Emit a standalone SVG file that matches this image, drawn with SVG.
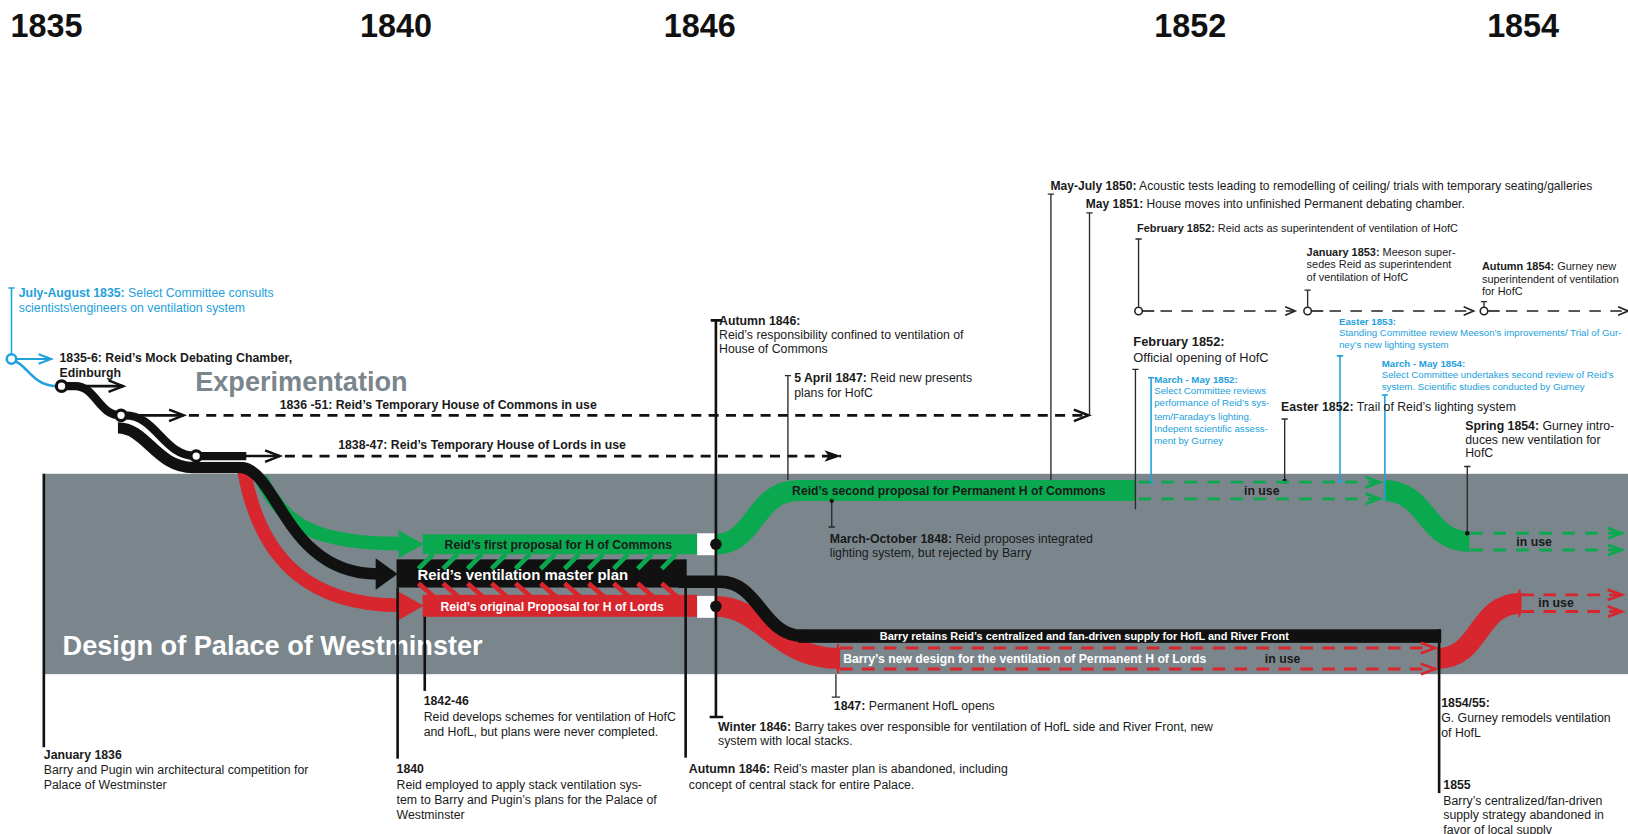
<svg xmlns="http://www.w3.org/2000/svg" width="1628" height="834" viewBox="0 0 1628 834">
<defs>
<style>
text{font-family:"Liberation Sans",Arial,Helvetica,sans-serif;font-size:11.8px;fill:#1a1a1a}
.b{font-weight:bold}
.yr{font-size:31px;font-weight:bold;fill:#111}
.big{font-size:26px;font-weight:bold}
.blue{fill:#22a0dc}
.xs{font-size:9.3px}
.sm{font-size:10.5px}
.w{fill:#fff}
.lbl{font-weight:bold;font-size:11.7px}
.ln{stroke:#2a2a2a;stroke-width:1.3;fill:none}
.lnB{stroke:#22a0dc;stroke-width:1.5;fill:none}
.thk{stroke:#111;stroke-width:2.5;fill:none}
.ar{stroke:#111;stroke-width:2.5;fill:none}
.dk{stroke:#111;stroke-width:2.6;fill:none;stroke-dasharray:9.6 7}
.dg{stroke:#0aa94f;stroke-width:2.8;fill:none;stroke-dasharray:12 10}
.dr{stroke:#d7262d;stroke-width:2.8;fill:none;stroke-dasharray:12 9}
.dt{stroke:#222;stroke-width:1.6;fill:none;stroke-dasharray:11 9}
.cir{fill:#fff;stroke:#111;stroke-width:3}
.hg{stroke:#0aa94f;stroke-width:4.5}
.hr{stroke:#d7262d;stroke-width:4.5}
</style>
<marker id="chK" markerUnits="userSpaceOnUse" markerWidth="18" markerHeight="14" refX="15" refY="6" orient="auto" overflow="visible"><path d="M1,0.5 L15,6 L1,11.5" fill="none" stroke="#111" stroke-width="2.4"/></marker>
<marker id="chB" markerUnits="userSpaceOnUse" markerWidth="16" markerHeight="12" refX="13" refY="5" orient="auto" overflow="visible"><path d="M1,0.5 L13,5 L1,9.5" fill="none" stroke="#22a0dc" stroke-width="2"/></marker>
<marker id="chT" markerUnits="userSpaceOnUse" markerWidth="12" markerHeight="10" refX="10" refY="4.5" orient="auto" overflow="visible"><path d="M0.5,0.5 L10,4.5 L0.5,8.5" fill="none" stroke="#222" stroke-width="1.6"/></marker>
<marker id="chG" markerUnits="userSpaceOnUse" markerWidth="16" markerHeight="12" refX="14" refY="5" orient="auto" overflow="visible"><path d="M0.5,0 L14,5 L0.5,10" fill="none" stroke="#0aa94f" stroke-width="2.6"/></marker>
<marker id="chR" markerUnits="userSpaceOnUse" markerWidth="16" markerHeight="12" refX="14" refY="5" orient="auto" overflow="visible"><path d="M0.5,0 L14,5 L0.5,10" fill="none" stroke="#d7262d" stroke-width="2.6"/></marker>
<marker id="hdK" markerUnits="userSpaceOnUse" markerWidth="18" markerHeight="12" refX="16" refY="5.5" orient="auto" overflow="visible"><path d="M0,0 L16,5.5 L0,11 L4,5.5 Z" fill="#111"/></marker>
</defs>
<rect width="1628" height="834" fill="#fff"/>
<g transform="scale(1.0436)">

<g id="band"><rect x="42" y="454" width="1530" height="192" fill="#7a868c"/></g>

<g id="years">
<text class="yr" x="10" y="35">1835</text>
<text class="yr" x="345" y="35">1840</text>
<text class="yr" x="636" y="35">1846</text>
<text class="yr" x="1106" y="35">1852</text>
<text class="yr" x="1425" y="35">1854</text>
</g>

<g id="headings">
<text class="big" x="187" y="375" style="fill:#7a868c">Experimentation</text>
<text class="big w" x="60" y="628">Design of Palace of Westminster</text>
</g>

<g id="tracks">
<path d="M234,452 C250,540 300,580 384,580" stroke="#d7262d" stroke-width="13" fill="none"/>
<path d="M250,458 C272,505 305,521 384,521" stroke="#0aa94f" stroke-width="13" fill="none"/>
<path d="M113,410 C140,410 150,448 185,448 L232,448 C266,452 275,550 362,550" stroke="#111" stroke-width="11" fill="none"/>
<polygon points="360,535 381,550 360,565" fill="#111"/>
<polygon points="382,508 406,521.5 382,535" fill="#0aa94f"/>
<polygon points="382,567 406,580.5 382,594" fill="#d7262d"/>
<path d="M59,370 L72,370 C92,370 94,398 116,398" stroke="#111" stroke-width="8" fill="none"/>
<path d="M120,398 C150,398 156,437 188,437 L236,437" stroke="#fff" stroke-width="11" fill="none"/>
<path d="M120,398 C150,398 156,437 188,437 L236,437" stroke="#111" stroke-width="8" fill="none"/>
</g>

<g id="reid-proposals">
<rect x="405" y="512" width="263" height="19" fill="#0aa94f"/>
<rect x="668" y="511" width="17" height="21" fill="#fff"/>
<rect x="380" y="536" width="278" height="27" fill="#111"/>
<rect x="405" y="570" width="263" height="21" fill="#d7262d"/>
<rect x="668" y="571" width="17" height="21" fill="#fff"/>
<g class="hg">
<path d="M401,545 l14,-14 M424.5,545 l14,-14 M448,545 l14,-14 M471,545 l14,-14 M494,545 l14,-14 M518,545 l14,-14 M541,545 l14,-14 M564,545 l14,-14 M588,545 l14,-14 M611,545 l14,-14 M634,545 l14,-14"/>
</g>
<g class="hr">
<path d="M401,559 l15,13 M424.5,559 l15,13 M448,559 l15,13 M471,559 l15,13 M494,559 l15,13 M518,559 l15,13 M541,559 l15,13 M564,559 l15,13 M588,559 l15,13 M611,559 l15,13 M634,559 l15,13"/>
</g>
<text class="lbl" x="426" y="526">Reid’s first proposal for H of Commons</text>
<text class="b w" x="400" y="556" style="font-size:14.3px">Reid’s ventilation master plan</text>
<text class="lbl w" x="422" y="585">Reid’s original Proposal for H of Lords</text>
</g>

<g id="permanent-hofc">
<path d="M685,521.5 C725,521.5 722,470 765,470 L1088,470" stroke="#0aa94f" stroke-width="20" fill="none"/>
<text class="lbl" x="759" y="474">Reid’s second proposal for Permanent H of Commons</text>
<path d="M1326,470 C1368,470 1366,519 1408,519" stroke="#0aa94f" stroke-width="20" fill="none"/>
</g>

<g id="permanent-hofl">
<path d="M685,581 C732,581 742,631 805,631" stroke="#d7262d" stroke-width="20" fill="none"/>
<path d="M650,557.5 L690,557.5 C728,557.5 730,609.5 770,609.5" stroke="#111" stroke-width="12" fill="none"/>
<rect x="765" y="603" width="616" height="13" fill="#111"/>
<text class="b w" x="843" y="613" style="font-size:10.5px">Barry retains Reid’s centralized and fan-driven supply for HofL and River Front</text>
<text class="lbl w" x="808" y="635">Barry’s new design for the ventilation of Permanent H of Lords</text>
<path d="M1377,631 C1420,631 1414,578 1458,578" stroke="#d7262d" stroke-width="20" fill="none"/>
</g>

<g id="connectors">
<path class="lnB" d="M11,276 V340 M8,276 H14"/>
<path d="M16,344 H49" stroke="#22a0dc" stroke-width="2" marker-end="url(#chB)"/>
<path d="M14,346 C26,350 32,370 54,370" stroke="#22a0dc" stroke-width="2.5" fill="none"/>
<path class="ar" d="M64,370 H118" marker-end="url(#chK)"/>
<path class="ar" d="M121,398 H176" marker-end="url(#chK)"/>
<path class="dk" d="M181,398 H1043" marker-end="url(#chK)"/>
<path class="ar" d="M193,437 H268" marker-end="url(#chK)"/>
<path class="dk" d="M273,437 H806" marker-end="url(#hdK)"/>
<path class="thk" d="M686,307 V687 M681,307 H692 M680,687 H693"/>
<path class="thk" d="M42,454 V716"/>
<path class="thk" d="M381,563 V727"/>
<path class="thk" d="M407,591 V662"/>
<path class="thk" d="M657,563 V726"/>
<path class="ln" d="M755,360 V460 M752,360 H758"/>
<path class="ln" d="M797,480 V505 M794,505 H800"/>
<circle cx="797" cy="480" r="2" fill="#111"/>
<path class="ln" d="M1007,186 V460 M1004,186 H1010"/>
<path class="ln" d="M1044,204 V398 M1041,204 H1047"/>
<path class="ln" d="M1091,229 V294 M1088,229 H1094"/>
<path class="ln" d="M1253,278 V294 M1250,278 H1256"/>
<path class="ln" d="M1422,289 V294 M1419,289 H1425"/>
<path class="dt" d="M1095,298 H1106" style="stroke-dasharray:none"/>
<path class="dt" d="M1112,298 H1241" marker-end="url(#chT)"/>
<path class="dt" d="M1257,298 H1268" style="stroke-dasharray:none"/>
<path class="dt" d="M1274,298 H1412" marker-end="url(#chT)"/>
<path class="dt" d="M1426,298 H1437" style="stroke-dasharray:none"/>
<path class="dt" d="M1443,298 H1560" marker-end="url(#chT)"/>
<circle cx="1091" cy="298" r="3.6" fill="#fff" stroke="#222" stroke-width="1.5"/>
<circle cx="1253" cy="298" r="3.6" fill="#fff" stroke="#222" stroke-width="1.5"/>
<circle cx="1422" cy="298" r="3.6" fill="#fff" stroke="#222" stroke-width="1.5"/>
<path class="ln" d="M1088,354 V488 M1085,354 H1091"/>
<path class="lnB" d="M1103,362 V462 M1100,362 H1106"/>
<path class="ln" d="M1231,401.5 V461 M1228,401.5 H1234"/>
<path class="lnB" d="M1284,341 V461 M1281,341 H1287"/>
<path class="lnB" d="M1327,378.5 V480 M1324,378.5 H1330"/>
<path class="ln" d="M1406,447 V511 M1403,447 H1409"/>
<circle cx="1103" cy="462" r="2" fill="#22a0dc"/>
<circle cx="1231" cy="461" r="2.2" fill="#111"/>
<circle cx="1284" cy="461" r="2" fill="#22a0dc"/>
<circle cx="1406" cy="511" r="2.2" fill="#111"/>
<path class="dg" d="M1091,462 H1322" marker-end="url(#chG)"/>
<path class="dg" d="M1091,478 H1322" marker-end="url(#chG)"/>
<path class="dg" d="M1409,511 H1554" marker-end="url(#chG)"/>
<path class="dg" d="M1409,527 H1554" marker-end="url(#chG)"/>
<path class="dr" d="M805,621 H1375" marker-end="url(#chR)"/>
<path class="dr" d="M805,641 H1375" marker-end="url(#chR)"/>
<path d="M803,617 V645" stroke="#d7262d" stroke-width="2.2"/>
<path class="ln" d="M801,646 V668 M797,668 H805"/>
<path d="M1456,565 V591" stroke="#d7262d" stroke-width="2"/>
<path class="dr" d="M1458,570 H1554" marker-end="url(#chR)"/>
<path class="dr" d="M1458,586 H1554" marker-end="url(#chR)"/>
<path class="thk" d="M1379,603 V760"/>
</g>

<g id="stations">
<circle cx="11" cy="344" r="4.5" fill="#fff" stroke="#22a0dc" stroke-width="2.5"/>
<circle class="cir" cx="59" cy="370" r="5"/>
<circle class="cir" cx="116" cy="398" r="5"/>
<circle class="cir" cx="188" cy="437" r="5"/>
<circle cx="686" cy="521.5" r="5.5" fill="#111"/>
<circle cx="686" cy="581" r="5.5" fill="#111"/>
</g>

<g id="labels-experiment">
<text class="blue" x="18" y="285"><tspan class="b">July-August 1835:</tspan> Select Committee consults</text>
<text class="blue" x="18" y="299">scientists\engineers on ventilation system</text>
<text class="b" x="57" y="347">1835-6: Reid’s Mock Debating Chamber,</text>
<text class="b" x="57" y="361">Edinburgh</text>
<text class="b" x="268" y="392">1836 -51: Reid’s Temporary House of Commons in use</text>
<text class="b" x="324" y="430">1838-47: Reid’s Temporary House of Lords in use</text>
</g>

<g id="labels-top">
<text x="689" y="311" class="b">Autumn 1846:</text>
<text x="689" y="325">Reid’s responsibility confined to ventilation of</text>
<text x="689" y="338">House of Commons</text>
<text x="761" y="366"><tspan class="b">5 April 1847:</tspan> Reid new presents</text>
<text x="761" y="380">plans for HofC</text>
<text x="1006.5" y="182" style="font-size:11.6px"><tspan class="b">May-July 1850:</tspan> Acoustic tests leading to remodelling of ceiling/ trials with temporary seating/galleries</text>
<text x="1040.5" y="199" style="font-size:11.5px"><tspan class="b">May 1851:</tspan> House moves into unfinished Permanent debating chamber.</text>
<text class="sm" x="1089.5" y="222"><tspan class="b">February 1852:</tspan> Reid acts as superintendent of ventilation of HofC</text>
<text class="sm" x="1252" y="245"><tspan class="b">January 1853:</tspan> Meeson super-</text>
<text class="sm" x="1252" y="257">sedes Reid as superintendent</text>
<text class="sm" x="1252" y="269">of ventilation of HofC</text>
<text class="sm" x="1420" y="259"><tspan class="b">Autumn 1854:</tspan> Gurney new</text>
<text class="sm" x="1420" y="271">superintendent of ventilation</text>
<text class="sm" x="1420" y="283">for HofC</text>
<text x="1086" y="332" class="b" style="font-size:12.3px">February 1852:</text>
<text x="1086" y="347" style="font-size:12.3px">Official opening of HofC</text>
<text class="blue xs" x="1106" y="367"><tspan class="b">March - May 1852:</tspan></text>
<text class="blue xs" x="1106" y="378">Select Committee reviews</text>
<text class="blue xs" x="1106" y="389.5">performance of Reid’s sys-</text>
<text class="blue xs" x="1106" y="402">tem/Faraday’s lighting.</text>
<text class="blue xs" x="1106" y="414">Indepent scientific assess-</text>
<text class="blue xs" x="1106" y="425.5">ment by Gurney</text>
<text x="1227.5" y="394"><tspan class="b">Easter 1852:</tspan> Trail of Reid’s lighting system</text>
<text class="blue xs" x="1283" y="311"><tspan class="b">Easter 1853:</tspan></text>
<text class="blue xs" x="1283" y="322">Standing Committee review Meeson’s improvements/ Trial of Gur-</text>
<text class="blue xs" x="1283" y="333">ney’s new lighting system</text>
<text class="blue xs" x="1324" y="351.5"><tspan class="b">March - May 1854:</tspan></text>
<text class="blue xs" x="1324" y="362.5">Select Committee undertakes second review of Reid’s</text>
<text class="blue xs" x="1324" y="374">system. Scientific studies conducted by Gurney</text>
<text x="1404" y="412"><tspan class="b">Spring 1854:</tspan> Gurney intro-</text>
<text x="1404" y="425">duces new ventilation for</text>
<text x="1404" y="437.5">HofC</text>
</g>

<g id="labels-band">
<text x="795" y="520"><tspan class="b">March-October 1848:</tspan> Reid proposes integrated</text>
<text x="795" y="534">lighting system, but rejected by Barry</text>
<text class="b" x="1192" y="474">in use</text>
<text class="b" x="1453" y="523">in use</text>
<text class="b" x="1212" y="635">in use</text>
<text class="b" x="1474" y="582">in use</text>
</g>

<g id="labels-bottom">
<text class="b" x="42" y="727">January 1836</text>
<text x="42" y="741.5">Barry and Pugin win architectural competition for</text>
<text x="42" y="756">Palace of Westminster</text>
<text class="b" x="380" y="741">1840</text>
<text x="380" y="756">Reid employed to apply stack ventilation sys-</text>
<text x="380" y="770.5">tem to Barry and Pugin’s plans for the Palace of</text>
<text x="380" y="785">Westminster</text>
<text class="b" x="406" y="676">1842-46</text>
<text x="406" y="690.5">Reid develops schemes for ventilation of HofC</text>
<text x="406" y="705">and HofL, but plans were never completed.</text>
<text x="660" y="741"><tspan class="b">Autumn 1846:</tspan> Reid’s master plan is abandoned, including</text>
<text x="660" y="756">concept of central stack for entire Palace.</text>
<text x="688" y="700"><tspan class="b">Winter 1846:</tspan> Barry takes over responsible for ventilation of HofL side and River Front, new</text>
<text x="688" y="714">system with local stacks.</text>
<text x="799" y="680"><tspan class="b">1847:</tspan> Permanent HofL opens</text>
<text class="b" x="1381" y="677">1854/55:</text>
<text x="1381" y="692">G. Gurney remodels ventilation</text>
<text x="1381" y="706">of HofL</text>
<text class="b" x="1383" y="756">1855</text>
<text x="1383" y="771">Barry’s centralized/fan-driven</text>
<text x="1383" y="785">supply strategy abandoned in</text>
<text x="1383" y="799">favor of local supply</text>
</g>

</g>
</svg>
